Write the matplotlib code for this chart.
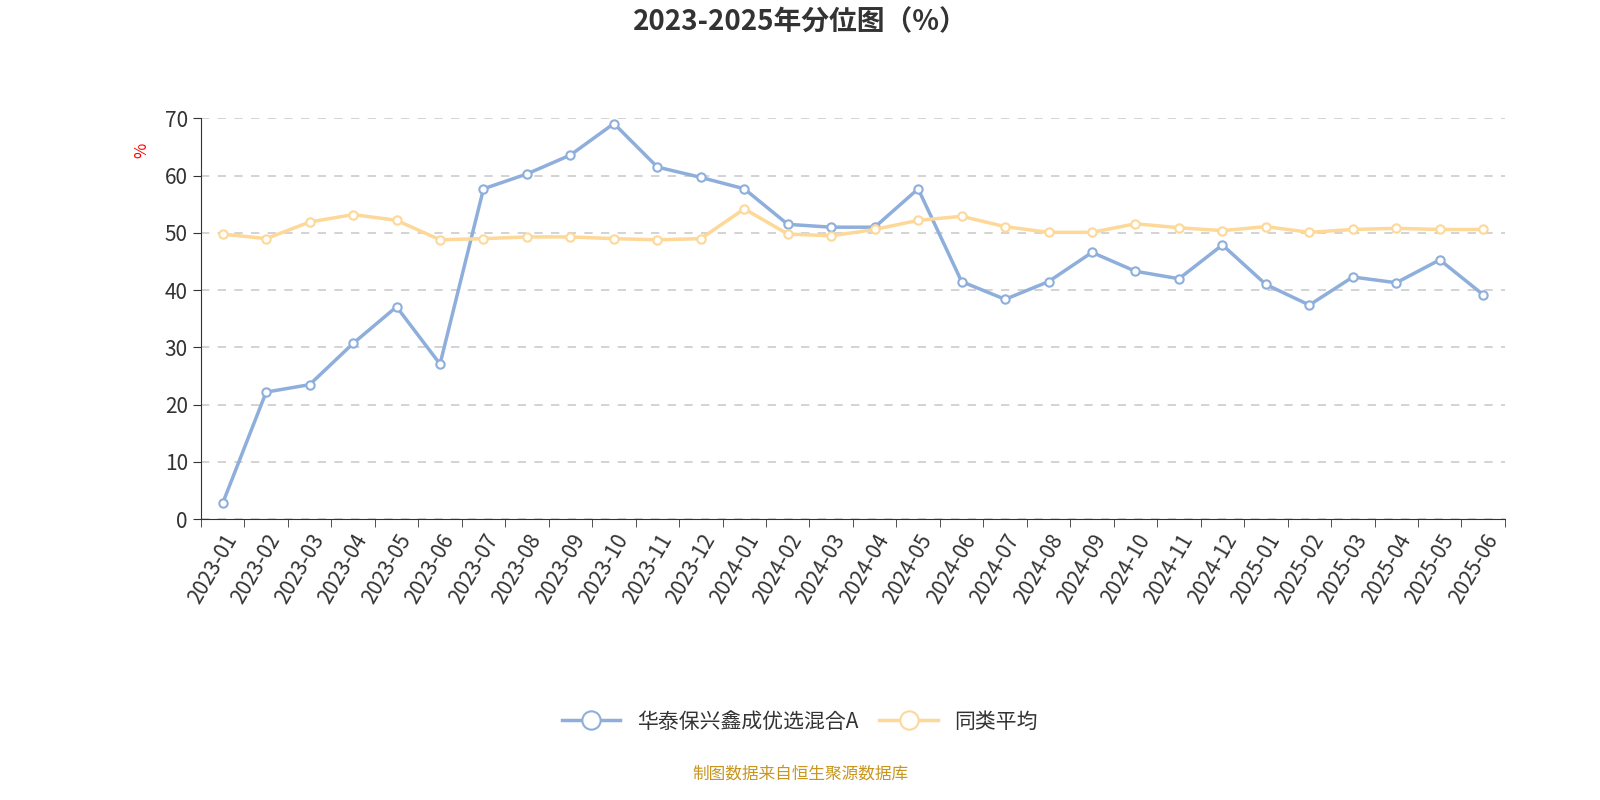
import matplotlib
matplotlib.use("Agg")
import matplotlib.pyplot as plt
from matplotlib import font_manager
import numpy as np

names = {f.name for f in font_manager.fontManager.ttflist}
cjk = [n for n in ["Noto Sans CJK SC", "Noto Sans CJK JP", "Noto Sans CJK TC", "Noto Sans CJK KR", "Noto Sans SC"] if n in names]
if not cjk:
    cjk = [n for n in names if "CJK" in n]
plt.rcParams["font.family"] = "sans-serif"
plt.rcParams["font.sans-serif"] = cjk + ["DejaVu Sans"]

months = ["2023-01","2023-02","2023-03","2023-04","2023-05","2023-06","2023-07","2023-08","2023-09","2023-10","2023-11","2023-12",
          "2024-01","2024-02","2024-03","2024-04","2024-05","2024-06","2024-07","2024-08","2024-09","2024-10","2024-11","2024-12",
          "2025-01","2025-02","2025-03","2025-04","2025-05","2025-06"]
fund = [2.8,22.2,23.5,30.7,37.1,27.1,57.7,60.3,63.6,69.1,61.5,59.7,57.7,51.5,51.0,51.0,57.7,41.5,38.4,41.5,46.6,43.3,42.0,47.9,41.0,37.4,42.3,41.3,45.3,39.2]
avg = [49.8,49.0,51.9,53.2,52.2,48.8,49.0,49.3,49.3,49.0,48.8,49.0,54.2,49.8,49.5,50.6,52.2,52.9,51.1,50.1,50.1,51.6,50.9,50.4,51.1,50.1,50.6,50.8,50.6,50.6]
yticks = [0,10,20,30,40,50,60,70]

fig = plt.figure(figsize=(16,8), dpi=100)
ax = fig.add_axes([0.1256, 0.351, 0.815, 0.501])
x = np.arange(len(months))
for y, c, lab in [(fund, "#8eaedb", "华泰保兴鑫成优选混合A"), (avg, "#fdd898", "同类平均")]:
    ax.plot(x, y, color=c, lw=2.5, marker="o", ms=6, mfc="white", mec=c, mew=1.5, label=lab, zorder=3)
ax.set_xlim(-0.5, len(months)-0.5)
ax.set_ylim(0, 70)
ax.set_yticks(yticks)
ax.set_yticklabels([str(v) for v in yticks], fontsize=15, color="#333333")
ax.set_xticks(x)
ax.set_xticklabels(months, rotation=60, ha="right", rotation_mode="anchor", fontsize=15, color="#333333")
ax.set_xticks(np.arange(-0.5, len(months)), minor=True)
ax.tick_params(axis="x", which="major", length=0, pad=8)
ax.tick_params(axis="x", which="minor", length=6, color="#333333")
ax.tick_params(axis="y", length=6, color="#333333")
ax.grid(axis="y", ls=(0,(5,5)), color="#cccccc", lw=1.2)
for s in ["top","right"]:
    ax.spines[s].set_visible(False)
ax.spines["left"].set_color("#333333")
ax.spines["bottom"].set_color("#333333")
ax.text(-0.045, 0.92, "%", transform=ax.transAxes, color="red", fontsize=12, rotation=90, ha="center", va="center")
fig.text(0.5, 0.972, "2023-2025年分位图（%）", ha="center", va="center", fontsize=20, fontweight="bold", color="#333333")
fig.legend(loc="center", bbox_to_anchor=(0.5, 0.098), ncol=2, frameon=False, fontsize=15, markerscale=2.2, handlelength=2.8, columnspacing=1.0, labelcolor="#333333")
fig.text(0.5, 0.033, "制图数据来自恒生聚源数据库", ha="center", va="center", fontsize=12, color="#c8961e")
fig.savefig("out.png", dpi=100)
